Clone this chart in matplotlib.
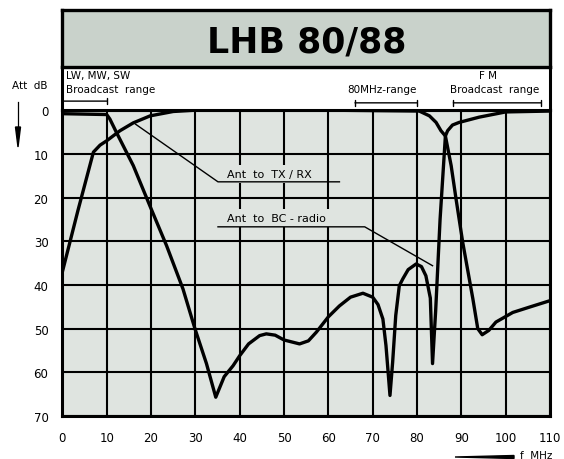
import matplotlib.pyplot as plt

# attenuation curves (f in MHz, attenuation in dB)
tx_f = [0, 3.5, 7, 8.5, 10, 13, 16, 19.8, 25, 30, 60, 80.5, 82.8, 84.3, 85.4, 86.4,
        87.7, 88.8, 90.3, 92.6, 93.7, 94.7, 96.2, 97.8, 101.6, 105.3, 110]
tx_db = [37, 23, 9.6, 8, 7, 4.7, 2.9, 1.3, 0.3, 0, 0, 0.2, 1.3, 2.8, 4.7, 5.9,
         12.7, 20.3, 30.2, 43.2, 50, 51.4, 50.4, 48.5, 46.3, 45.1, 43.6]

bc_f = [0, 5, 10, 10.7, 12.2, 16, 19.7, 23.5, 27.2, 29.9, 32.5, 34.6, 36.5, 38.5, 40,
        42, 44.5, 46, 48, 50, 53.5, 55.5, 57.3, 60, 62.5, 65, 67.8, 70, 71.2, 72.3,
        73.0, 73.9, 74.5, 75.2, 76, 76.8, 78, 79.8, 81, 82, 83.0, 83.5, 84.2, 85.2,
        86.4, 86.9, 88, 89.5, 94, 100, 110]
bc_db = [0.8, 0.9, 1.0, 2.0, 5.1, 12.7, 21.8, 31, 40.9, 50, 58, 65.7, 61, 58.5, 56.2,
         53.5, 51.6, 51.2, 51.5, 52.6, 53.5, 52.8, 50.8, 47.3, 44.8, 42.8, 41.9, 42.8, 44.5, 47.8,
         53.9, 65.3, 57.7, 47, 40.2, 38.6, 36.5, 35.2, 35.8, 37.9, 43, 58, 46, 25,
         5.9, 4.7, 3.4, 2.8, 1.6, 0.4, 0.2]

xticks = list(range(0, 111, 10))
yticks = list(range(0, 71, 10))

title_bg = '#c9d2cb'
plot_bg = '#dfe4e0'

fig = plt.figure(figsize=(5.64, 4.6), dpi=100)
plt.rcParams['font.family'] = 'DejaVu Sans'

# main plot
ax = fig.add_axes([0.1106, 0.0935, 0.8646, 0.6648])
ax.set_facecolor(plot_bg)
ax.set_xlim(0, 110)
ax.set_ylim(70, 0)
ax.set_xticks(xticks)
ax.set_yticks(yticks)
ax.grid(color='black', lw=1.5)
ax.set_axisbelow(True)
ax.tick_params(length=0, labelsize=8.5)
ax.tick_params(axis='x', pad=11)
ax.tick_params(axis='y', pad=10)
for s in ax.spines.values():
    s.set_linewidth(2.2)

ax.plot(tx_f, tx_db, color='black', lw=2.4, solid_joinstyle='round', zorder=3)
ax.plot(bc_f, bc_db, color='black', lw=2.4, solid_joinstyle='round', zorder=3)

# labels with leader lines
ax.text(37.1, 14.6, 'Ant  to  TX / RX', fontsize=8, ha='left', va='center', zorder=2.5,
        bbox=dict(facecolor=plot_bg, edgecolor='none', pad=3))
ax.text(37.1, 24.7, 'Ant  to  BC - radio', fontsize=8, ha='left', va='center', zorder=2.5,
        bbox=dict(facecolor=plot_bg, edgecolor='none', pad=3))
ax.plot([16.5, 35.1, 62.5], [3.2, 16.4, 16.4], color='black', lw=1.0, zorder=4)
ax.plot([35.1, 68.2, 83.5], [26.7, 26.7, 35.6], color='black', lw=1.0, zorder=4)

# white band with the frequency ranges
hax = fig.add_axes([0.1106, 0.7583, 0.8646, 0.0939])
hax.set_xlim(0, 110)
hax.set_ylim(0, 1)
hax.set_xticks([])
hax.set_yticks([])
for s in hax.spines.values():
    s.set_linewidth(2.2)
hax.text(0.8, 0.815, 'LW, MW, SW', fontsize=7.5, va='center')
hax.text(0.8, 0.49, 'Broadcast  range', fontsize=7.5, va='center')
hax.text(72.0, 0.49, '80MHz-range', fontsize=7.5, ha='center', va='center')
hax.text(96.0, 0.815, 'F M', fontsize=7.5, ha='center', va='center')
hax.text(97.6, 0.49, 'Broadcast  range', fontsize=7.5, ha='center', va='center')
for a, b, yy in [(0, 10, 0.21), (66, 80, 0.17), (88.2, 108, 0.17)]:
    hax.annotate('', xy=(b, yy), xytext=(a, yy),
                 arrowprops=dict(arrowstyle='|-|,widthA=0.2,widthB=0.2', lw=1.0, color='black',
                                 shrinkA=0, shrinkB=0))

# title box
tax = fig.add_axes([0.1106, 0.852, 0.8646, 0.124])
tax.set_facecolor(title_bg)
tax.set_xticks([])
tax.set_yticks([])
for s in tax.spines.values():
    s.set_linewidth(2.4)
tax.text(0.5, 0.45, 'LHB 80/88', fontsize=25, fontweight='bold', ha='center', va='center',
         transform=tax.transAxes)

# axis captions
fig.text(30 / 564, 1 - 86 / 460, 'Att  dB', fontsize=7.5, ha='center', va='center')
fig.add_artist(plt.Line2D([18 / 564, 18 / 564], [1 - 103 / 460, 1 - 132 / 460], color='black', lw=0.9))
fig.patches.append(plt.Polygon([[15.5 / 564, 1 - 128 / 460], [20.5 / 564, 1 - 128 / 460],
                                [18 / 564, 1 - 148 / 460]], closed=True, color='black',
                               transform=fig.transFigure, figure=fig))
fig.text(536 / 564, 1 - 456 / 460, 'f  MHz', fontsize=7.5, ha='center', va='center')
fig.patches.append(plt.Polygon([[455 / 564, 1 - 458 / 460], [514 / 564, 1 - 456.5 / 460],
                                [514 / 564, 1 - 459.5 / 460]], closed=True, color='black',
                               transform=fig.transFigure, figure=fig))

plt.savefig('out.png', dpi=100)
